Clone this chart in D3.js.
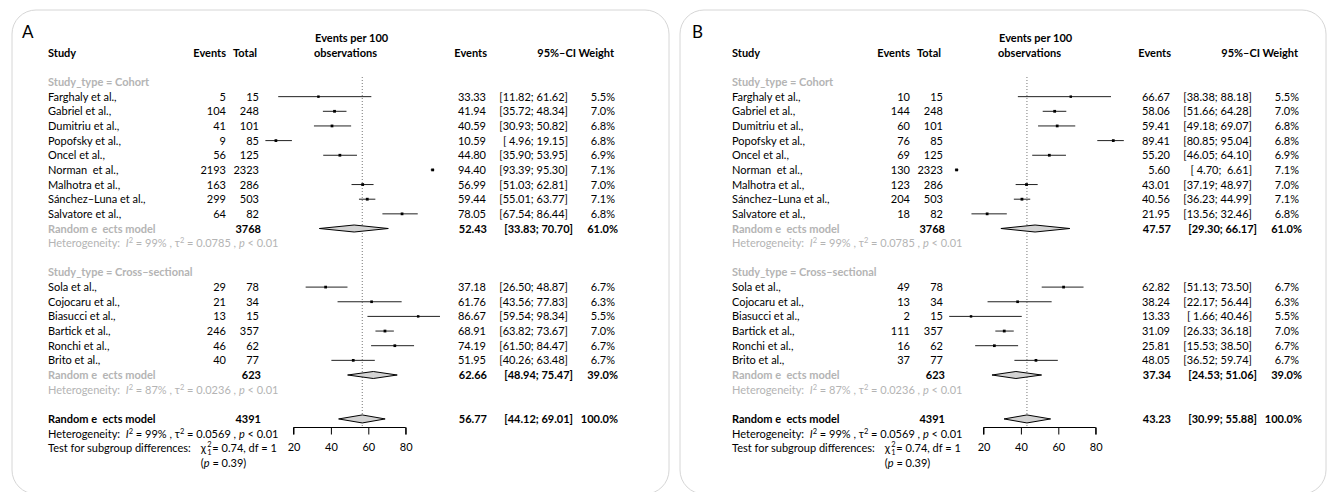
<!doctype html>
<html lang="en">
    <head>
        <meta charset="utf-8">
        <title>Forest plots A and B</title>
        <script type="text/javascript" src="https://cdn.jsdelivr.net/npm/d3@7/dist/d3.min.js"></script>
        <style>
            body { margin: 0; background: #fff; }
            svg text { font-family: Lato, "Open Sans", sans-serif; font-size: 11px; white-space: pre; fill: #000; }
            .bold { font-weight: bold; }
            .grey { fill: #b4b4b4; }
        </style>
    </head>
    <body>
        <script type="text/javascript">
            // study level data (same order for both panels)
            var studyNames = ["Farghaly et al.,", "Gabriel et al.,", "Dumitriu et al.,", "Popofsky et al.,", "Oncel et al.,",
                              "Norman  et al.,", "Malhotra et al.,", "Sánchez\u2013Luna et al.,", "Salvatore et al.,",
                              "Sola et al.,", "Cojocaru et al.,", "Biasucci et al.,", "Bartick et al.,", "Ronchi et al.,", "Brito et al.,"];
            var studyGroup = [0, 0, 0, 0, 0, 0, 0, 0, 0, 1, 1, 1, 1, 1, 1];
            var totals = [15, 248, 101, 85, 125, 2323, 286, 503, 82, 78, 34, 15, 357, 62, 77];
            var weights = [5.5, 7.0, 6.8, 6.8, 6.9, 7.1, 7.0, 7.1, 6.8, 6.7, 6.3, 5.5, 7.0, 6.7, 6.7];

            // panel A
            var eventsA = [5, 104, 41, 9, 56, 2193, 163, 299, 64, 29, 21, 13, 246, 46, 40];
            var estA = [33.33, 41.94, 40.59, 10.59, 44.80, 94.40, 56.99, 59.44, 78.05, 37.18, 61.76, 86.67, 68.91, 74.19, 51.95];
            var lowA = [11.82, 35.72, 30.93, 4.96, 35.90, 93.39, 51.03, 55.01, 67.54, 26.50, 43.56, 59.54, 63.82, 61.50, 40.26];
            var upA = [61.62, 48.34, 50.82, 19.15, 53.95, 95.30, 62.81, 63.77, 86.44, 48.87, 77.83, 98.34, 73.67, 84.47, 63.48];

            // panel B
            var eventsB = [10, 144, 60, 76, 69, 130, 123, 204, 18, 49, 13, 2, 111, 16, 37];
            var estB = [66.67, 58.06, 59.41, 89.41, 55.20, 5.60, 43.01, 40.56, 21.95, 62.82, 38.24, 13.33, 31.09, 25.81, 48.05];
            var lowB = [38.38, 51.66, 49.18, 80.85, 46.05, 4.70, 37.19, 36.23, 13.56, 51.13, 22.17, 1.66, 26.33, 15.53, 36.52];
            var upB = [88.18, 64.28, 69.07, 95.04, 64.10, 6.61, 48.97, 44.99, 32.46, 73.50, 56.44, 40.46, 36.18, 38.50, 59.74];

            // subgroups
            var groupNames = ["Cohort", "Cross\u2013sectional"];
            var groupTotals = [3768, 623];
            var groupWeights = [61.0, 39.0];
            var groupI2 = ["99%", "87%"];
            var groupTau2 = ["0.0785", "0.0236"];
            var groupEstA = [52.43, 62.66], groupLowA = [33.83, 48.94], groupUpA = [70.70, 75.47];
            var groupEstB = [47.57, 37.34], groupLowB = [29.30, 24.53], groupUpB = [66.17, 51.06];

            // overall
            var overallTotal = 4391;
            var overallA = [56.77, 44.12, 69.01];
            var overallB = [43.23, 30.99, 55.88];
            var overallHet = ["99%", "0.0569"];
            var subgroupTest = ["0.74", "1", "0.39"];

            var ticks = [20, 40, 60, 80];

            var svgW = 1328, svgH = 492;
            var rowY = function(i) { return 82 + 14.65 * i; };
            var f2 = d3.format(".2f");
            var f1 = d3.format(".1f");
            var pad = function(v) { var s = f2(v); return s.length < 5 ? " " + s : s; };
            var ci = function(l, u) { return "[" + pad(l) + "; " + pad(u) + "]"; };

            var svg = d3.select("body")
                        .append("svg")
                        .attr("width", svgW)
                        .attr("height", svgH);

            function hetText(g, x, y, i2, tau2, grey) {
                var t = g.append("text").attr("x", x).attr("y", y).attr("class", grey ? "grey" : null);
                t.append("tspan").text("Heterogeneity:  ");
                t.append("tspan").attr("font-style", "italic").text("I");
                t.append("tspan").attr("dy", -4).style("font-size", "7.5px").text("2");
                t.append("tspan").attr("dy", 4).text(" = " + i2 + " , \u03c4");
                t.append("tspan").attr("dy", -4).style("font-size", "7.5px").text("2");
                t.append("tspan").attr("dy", 4).text(" = " + tau2 + " , ");
                t.append("tspan").attr("font-style", "italic").text("p");
                t.append("tspan").text(" < 0.01");
            }

            function drawPanel(p) {
                var g = svg.append("g");
                var tx = function(x) { return x + p.dx; };

                // rounded frame
                g.append("rect")
                 .attr("x", p.box[0]).attr("y", 10)
                 .attr("width", p.box[1] - p.box[0]).attr("height", 484)
                 .attr("rx", 24)
                 .attr("fill", "none")
                 .attr("stroke", "#d6d6d6");

                g.append("text").attr("x", p.lx).attr("y", 38).style("font-size", "17px").text(p.label);

                var xScale = d3.scaleLinear().domain([20, 80]).range([293.5 + p.px, 405.7 + p.px]);

                // headers
                var hy = rowY(0) - 25;
                g.append("text").attr("class", "bold").attr("x", tx(48)).attr("y", hy).text("Study");
                g.append("text").attr("class", "bold").attr("x", tx(226)).attr("y", hy).attr("text-anchor", "end").text("Events");
                g.append("text").attr("class", "bold").attr("x", tx(257)).attr("y", hy).attr("text-anchor", "end").text("Total");
                g.append("text").attr("class", "bold").attr("x", tx(315)).attr("y", hy - 15).text("Events per 100");
                g.append("text").attr("class", "bold").attr("x", tx(314)).attr("y", hy).text("observations");
                g.append("text").attr("class", "bold").attr("x", tx(487)).attr("y", hy).attr("text-anchor", "end").text("Events");
                g.append("text").attr("class", "bold").attr("x", tx(576)).attr("y", hy).attr("text-anchor", "end").text("95%\u2013CI");
                g.append("text").attr("class", "bold").attr("x", tx(614)).attr("y", hy).attr("text-anchor", "end").text("Weight");

                // reference line at overall estimate
                g.append("line")
                 .attr("x1", xScale(p.overall[0])).attr("x2", xScale(p.overall[0]))
                 .attr("y1", 77).attr("y2", 427)
                 .attr("stroke", "#777")
                 .attr("stroke-dasharray", "1,2");

                var diamond = function(y, est, lo, hi, h) {
                    return "M" + xScale(lo) + "," + y + "L" + xScale(est) + "," + (y - h) +
                           "L" + xScale(hi) + "," + y + "L" + xScale(est) + "," + (y + h) + "Z";
                };

                groupNames.forEach(function(name, gi) {
                    var start = gi === 0 ? 0 : 13;
                    g.append("text").attr("class", "bold grey").attr("x", tx(48)).attr("y", rowY(start) + 4)
                     .text("Study_type = " + name);

                    var idx = d3.range(studyNames.length).filter(function(i) { return studyGroup[i] === gi; });
                    idx.forEach(function(i, k) {
                        var y = rowY(start + 1 + k);
                        var by = y + 4;
                        g.append("text").attr("x", tx(48)).attr("y", by).text(studyNames[i]);
                        g.append("text").attr("x", tx(226)).attr("y", by).attr("text-anchor", "end").text(p.events[i]);
                        g.append("text").attr("x", tx(259)).attr("y", by).attr("text-anchor", "end").text(totals[i]);
                        g.append("text").attr("x", tx(486)).attr("y", by).attr("text-anchor", "end").text(f2(p.est[i]));
                        g.append("text").attr("x", tx(568)).attr("y", by).attr("text-anchor", "end").text(ci(p.low[i], p.up[i]));
                        g.append("text").attr("x", tx(615)).attr("y", by).attr("text-anchor", "end").text(f1(weights[i]) + "%");

                        g.append("line")
                         .attr("x1", xScale(p.low[i])).attr("x2", xScale(p.up[i]))
                         .attr("y1", y).attr("y2", y)
                         .attr("stroke", "#222").attr("stroke-width", 1);
                        var s = 2.8 * Math.sqrt(weights[i] / 7.1);
                        g.append("rect")
                         .attr("x", xScale(p.est[i]) - s / 2).attr("y", y - s / 2)
                         .attr("width", s).attr("height", s)
                         .attr("fill", "#000");
                    });

                    var ry = rowY(start + 1 + idx.length);
                    g.append("text").attr("class", "bold grey").attr("x", tx(48)).attr("y", ry + 4).text("Random e  ects model");
                    g.append("text").attr("class", "bold").attr("x", tx(261)).attr("y", ry + 4).attr("text-anchor", "end").text(groupTotals[gi]);
                    g.append("text").attr("class", "bold").attr("x", tx(487)).attr("y", ry + 4).attr("text-anchor", "end").text(f2(p.gEst[gi]));
                    g.append("text").attr("class", "bold").attr("x", tx(573)).attr("y", ry + 4).attr("text-anchor", "end").text(ci(p.gLow[gi], p.gUp[gi]));
                    g.append("text").attr("class", "bold").attr("x", tx(618)).attr("y", ry + 4).attr("text-anchor", "end").text(f1(groupWeights[gi]) + "%");
                    g.append("path")
                     .attr("d", diamond(ry, p.gEst[gi], p.gLow[gi], p.gUp[gi], 3.5))
                     .attr("fill", "#d3d3d3").attr("stroke", "#000");
                    hetText(g, tx(48), rowY(start + 2 + idx.length) + 4, groupI2[gi], groupTau2[gi], true);
                });

                // overall
                var oy = rowY(23);
                g.append("text").attr("class", "bold").attr("x", tx(48)).attr("y", oy + 4).text("Random e  ects model");
                g.append("text").attr("class", "bold").attr("x", tx(261)).attr("y", oy + 4).attr("text-anchor", "end").text(overallTotal);
                g.append("text").attr("class", "bold").attr("x", tx(487)).attr("y", oy + 4).attr("text-anchor", "end").text(f2(p.overall[0]));
                g.append("text").attr("class", "bold").attr("x", tx(573)).attr("y", oy + 4).attr("text-anchor", "end").text(ci(p.overall[1], p.overall[2]));
                g.append("text").attr("class", "bold").attr("x", tx(618)).attr("y", oy + 4).attr("text-anchor", "end").text("100.0%");
                g.append("path")
                 .attr("d", diamond(oy, p.overall[0], p.overall[1], p.overall[2], 4))
                 .attr("fill", "#d3d3d3").attr("stroke", "#000");

                hetText(g, tx(48), rowY(24) + 4, overallHet[0], overallHet[1], false);

                var ty = rowY(25) + 4;
                var testLabel = g.append("text").attr("x", tx(48)).attr("y", ty).text("Test for subgroup differences:");
                var chiX = Math.max(tx(162), tx(48) + testLabel.node().getComputedTextLength() + 10);
                g.append("text").attr("x", chiX).attr("y", ty).text("\u03c7");
                g.append("text").attr("x", chiX + 6.5).attr("y", ty - 5).style("font-size", "7.5px").text("2");
                g.append("text").attr("x", chiX + 6.5).attr("y", ty + 3).style("font-size", "7.5px").text("1");
                g.append("text").attr("x", chiX + 11.5).attr("y", ty).text("= " + subgroupTest[0] + ", df = " + subgroupTest[1]);
                var pt = g.append("text").attr("x", chiX).attr("y", rowY(26) + 4);
                pt.append("tspan").text("(");
                pt.append("tspan").attr("font-style", "italic").text("p");
                pt.append("tspan").text(" = " + subgroupTest[2] + ")");

                // axis
                var xAxis = d3.axisBottom(xScale).tickValues(ticks).tickSize(7).tickPadding(9).tickFormat(d3.format("d"));
                var ax = g.append("g")
                          .attr("transform", "translate(0, 427.5)")
                          .call(xAxis);
                ax.select(".domain").attr("d", "M" + xScale(20) + ",7V0H" + xScale(80) + "V7");
                ax.selectAll("text").style("font-size", "11px").style("font-family", "Lato, sans-serif");
            }

            drawPanel({label: "A", lx: 22, box: [12, 669], dx: 0, px: 0,
                       events: eventsA, est: estA, low: lowA, up: upA,
                       gEst: groupEstA, gLow: groupLowA, gUp: groupUpA, overall: overallA});
            drawPanel({label: "B", lx: 692, box: [680, 1326], dx: 684, px: 690,
                       events: eventsB, est: estB, low: lowB, up: upB,
                       gEst: groupEstB, gLow: groupLowB, gUp: groupUpB, overall: overallB});
        </script>
    </body>
</html>
